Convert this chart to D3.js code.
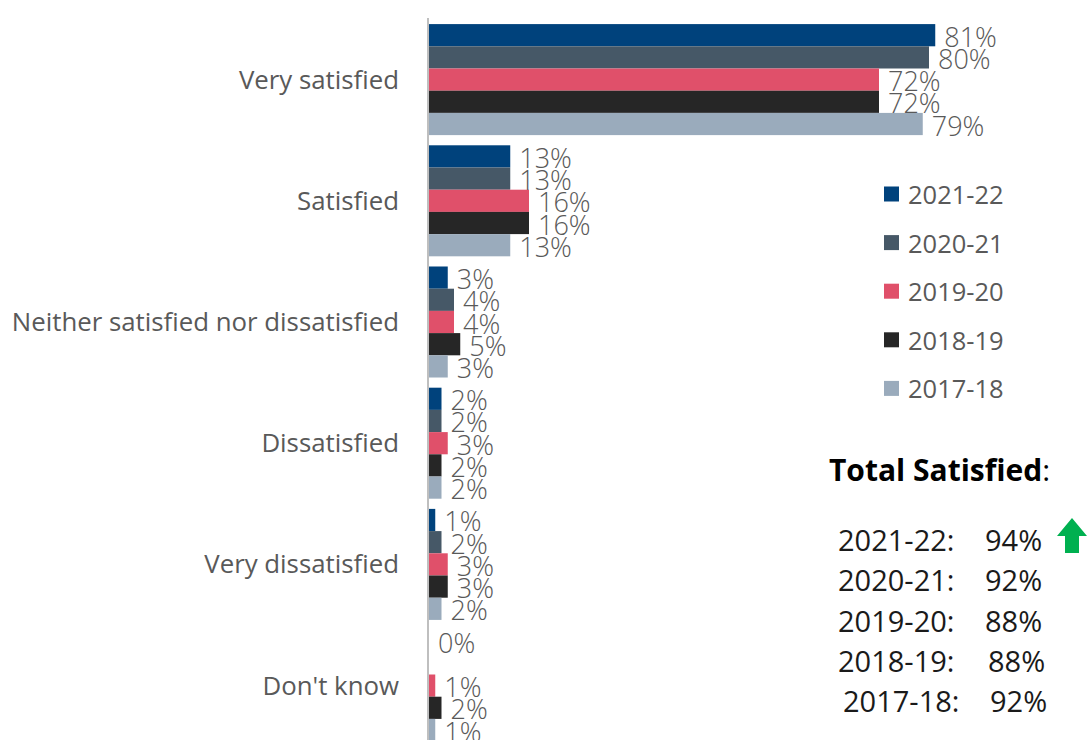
<!DOCTYPE html>
<html>
<head>
<meta charset="utf-8">
<script src="https://cdn.jsdelivr.net/npm/d3@7"></script>
<style>
  html, body { margin: 0; padding: 0; background: #fff; }
  svg { display: block; font-family: "Open Sans", "Noto Sans", sans-serif; }
</style>
</head>
<body>
<svg id="chart" width="1087" height="740"></svg>
<script>
// Satisfaction responses, share of respondents (%) per survey year
const categories = ["Very satisfied", "Satisfied", "Neither satisfied nor dissatisfied",
                    "Dissatisfied", "Very dissatisfied", "Don't know"];
const years = ["2021-22", "2020-21", "2019-20", "2018-19", "2017-18"];
const values2021_22 = [81, 13, 3, 2, 1, 0];
const values2020_21 = [80, 13, 4, 2, 2, null];
const values2019_20 = [72, 16, 4, 3, 3, 1];
const values2018_19 = [72, 16, 5, 2, 3, 2];
const values2017_18 = [79, 13, 3, 2, 2, 1];
const seriesValues = [values2021_22, values2020_21, values2019_20, values2018_19, values2017_18];
const colors = ["#00427c", "#465867", "#e0506a", "#262626", "#9aabbc"];

// Total satisfied summary
const totalYears = ["2021-22:", "2020-21:", "2019-20:", "2018-19:", "2017-18:"];
const totalValues = ["94%", "92%", "88%", "88%", "92%"];

const svg = d3.select("#chart");

const x = d3.scaleLinear().domain([0, 100]).range([429, 1054]);
const y = d3.scaleBand().domain(categories).range([19, 746.2])
  .paddingInner(0.084).paddingOuter(0.042);
const ySeries = d3.scaleBand().domain(years).range([0, y.bandwidth()]);

// Category labels
svg.append("g").selectAll("text").data(categories).join("text")
  .attr("x", 399)
  .attr("y", d => y(d) + y.bandwidth() / 2 - 1)
  .attr("text-anchor", "end")
  .attr("dominant-baseline", "central")
  .attr("font-size", 25.8)
  .attr("fill", "#595959")
  .text(d => d);

// Bars and value labels
const rows = [];
categories.forEach((c, ci) => {
  years.forEach((yr, si) => {
    const v = seriesValues[si][ci];
    if (v !== null) rows.push({ c, yr, v, color: colors[si] });
  });
});

const bars = svg.append("g");
bars.selectAll("rect").data(rows).join("rect")
  .attr("x", x(0))
  .attr("y", d => y(d.c) + ySeries(d.yr))
  .attr("width", d => x(d.v) - x(0))
  .attr("height", ySeries.bandwidth())
  .attr("fill", d => d.color);

svg.append("g").selectAll("text").data(rows).join("text")
  .attr("x", d => x(d.v) + 9)
  .attr("y", d => y(d.c) + ySeries(d.yr) + ySeries.bandwidth() / 2 + 1)
  .attr("dominant-baseline", "central")
  .attr("font-size", 27)
  .attr("font-weight", 300)
  .attr("fill", "#595959")
  .text(d => d.v + "%");

// Vertical axis line
svg.append("line")
  .attr("x1", 428).attr("x2", 428)
  .attr("y1", 18).attr("y2", 740)
  .attr("stroke", "#bfbfbf").attr("stroke-width", 2);

// Legend
const legend = svg.append("g").selectAll("g").data(years).join("g")
  .attr("transform", (d, i) => `translate(884, ${194 + i * 48.6})`);
legend.append("rect")
  .attr("x", 0).attr("y", -7.5).attr("width", 15).attr("height", 15)
  .attr("fill", (d, i) => colors[i]);
legend.append("text")
  .attr("x", 24).attr("y", 0)
  .attr("dominant-baseline", "central")
  .attr("font-size", 25.5)
  .attr("fill", "#595959")
  .text(d => d);

// Total satisfied panel
const title = svg.append("text")
  .attr("x", 829).attr("y", 481)
  .attr("font-size", 30)
  .attr("fill", "#000");
title.append("tspan").attr("font-weight", 700).text("Total Satisfied");
title.append("tspan").text(":");

const totals = svg.append("g").selectAll("g").data(totalYears).join("g")
  .attr("transform", (d, i) => `translate(0, ${551 + i * 40.3})`);
totals.append("text")
  .attr("x", (d, i) => i === 4 ? 843 : 838)
  .attr("font-size", 29)
  .attr("fill", "#1a1a1a")
  .text(d => d);
totals.append("text")
  .attr("x", (d, i) => [985, 985, 985, 988, 990][i])
  .attr("font-size", 29)
  .attr("fill", "#1a1a1a")
  .text((d, i) => totalValues[i]);

// Upward trend arrow next to the latest total
const arrow = d3.path();
arrow.moveTo(1072, 518);
arrow.lineTo(1087, 536);
arrow.lineTo(1079, 536);
arrow.lineTo(1079, 553);
arrow.lineTo(1065, 553);
arrow.lineTo(1065, 536);
arrow.lineTo(1057, 536);
arrow.closePath();
svg.append("path").attr("d", arrow.toString()).attr("fill", "#00b050");
</script>
</body>
</html>
